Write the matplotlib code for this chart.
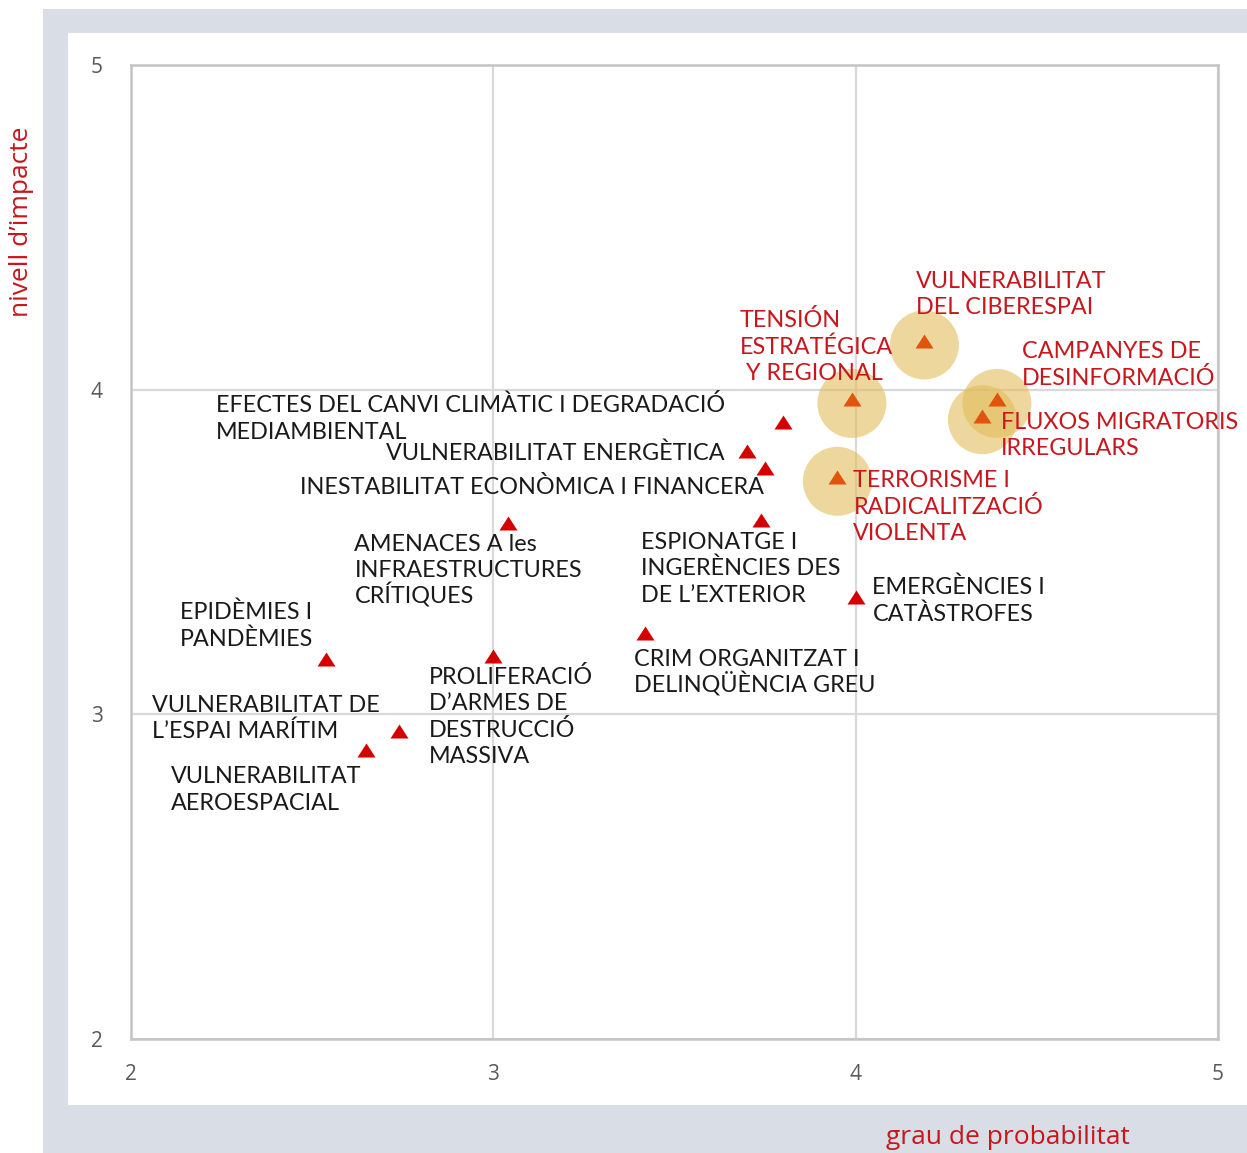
import matplotlib
matplotlib.use("Agg")
import matplotlib.pyplot as plt
from matplotlib.patches import Rectangle
from matplotlib.transforms import ScaledTranslation

# ---------------- data ----------------
labels = [
    "EPIDÈMIES I\nPANDÈMIES",
    "VULNERABILITAT\nAEROESPACIAL",
    "VULNERABILITAT DE\nL’ESPAI MARÍTIM",
    "PROLIFERACIÓ\nD’ARMES DE\nDESTRUCCIÓ\nMASSIVA",
    "AMENACES A les\nINFRAESTRUCTURES\nCRÍTIQUES",
    "CRIM ORGANITZAT I\nDELINQÜÈNCIA GREU",
    "ESPIONATGE I\nINGERÈNCIES DES\nDE L’EXTERIOR",
    "EMERGÈNCIES I\nCATÀSTROFES",
    "VULNERABILITAT ENERGÈTICA",
    "INESTABILITAT ECONÒMICA I FINANCERA",
    "EFECTES DEL CANVI CLIMÀTIC I DEGRADACIÓ\nMEDIAMBIENTAL",
    "TENSIÓN\nESTRATÉGICA\n Y REGIONAL",
    "TERRORISME I\nRADICALITZACIÓ\nVIOLENTA",
    "VULNERABILITAT\nDEL CIBERESPAI",
    "CAMPANYES DE\nDESINFORMACIÓ",
    "FLUXOS MIGRATORIS\nIRREGULARS",
]
probabilitat = [2.54, 2.65, 2.74, 3.00, 3.04, 3.42, 3.74, 4.00, 3.70, 3.75, 3.80, 3.99, 3.95, 4.19, 4.39, 4.35]
impacte      = [3.17, 2.89, 2.95, 3.18, 3.59, 3.25, 3.60, 3.36, 3.81, 3.76, 3.90, 3.97, 3.73, 4.15, 3.97, 3.92]
destacat     = [False, False, False, False, False, False, False, False, False, False, False,
                True, True, True, True, True]

x_ticks = [2, 3, 4, 5]
y_ticks = [2, 3, 4, 5]
x_label = "grau de probabilitat"
y_label = "nivell d’impacte"

# ---------------- styles / label placement (pixels, image-style: +down) ----------------
# (dx, dy of first baseline, horizontal alignment)
label_offsets = [
    (-146, -40, "left"),
    (-195, 33, "left"),
    (-247, -19, "left"),
    (-64, 28, "left"),
    (-153, 28, "left"),
    (-11, 33, "left"),
    (-120, 29, "left"),
    (17, -3, "left"),
    (-22, 9, "right"),
    (-1, 26, "right"),
    (-567, -10, "left"),
    (-112, -72, "left"),
    (16, 10, "left"),
    (-8, -53, "left"),
    (25, -41, "left"),
    (19, 13, "left"),
]
LINE_STEP = 26.5  # px between baselines

W, H = 1247, 1153
DPI = 100
LABEL_FONT = ["Lato", "DejaVu Sans"]
AXIS_FONT = ["Open Sans", "DejaVu Sans"]
RED_TEXT = "#c8161d"
BLACK_TEXT = "#1a1a1a"
MARK_RED = "#d40000"
MARK_ORANGE = "#e0540e"
HALO = "#e2bd5c"
FRAME = "#d8dde6"

plt.rcParams["font.family"] = AXIS_FONT

fig = plt.figure(figsize=(W / DPI, H / DPI), dpi=DPI)
fig.patch.set_facecolor("white")

def fx(px):
    return px / W

def fy(py):
    return 1 - py / H

# grey frame
fig.add_artist(Rectangle((fx(43), fy(1153)), fx(1247) - fx(43), fy(9) - fy(1153),
                         transform=fig.transFigure, facecolor=FRAME, edgecolor="none", zorder=-10))
fig.add_artist(Rectangle((fx(68), fy(1105)), fx(1247) - fx(68), fy(33) - fy(1105),
                         transform=fig.transFigure, facecolor="white", edgecolor="none", zorder=-9))

ax = fig.add_axes([fx(130.5), fy(1039), fx(1218) - fx(130.5), fy(65) - fy(1039)])
ax.set_xlim(2, 5)
ax.set_ylim(2, 5)
ax.set_facecolor("white")
ax.set_xticks(x_ticks)
ax.set_yticks(y_ticks)
ax.set_xticklabels([str(t) for t in x_ticks])
ax.set_yticklabels([str(t) for t in y_ticks])
ax.tick_params(length=0, labelsize=15, labelcolor="#595959")
ax.tick_params(axis="y", pad=20)
ax.tick_params(axis="x", pad=18)
ax.grid(True, color="#d9d9d9", linewidth=1.6, zorder=0)
ax.set_axisbelow(True)
for s in ax.spines.values():
    s.set_color("#c4c4c4")
    s.set_linewidth(1.8)

# halos
hx = [x for x, d in zip(probabilitat, destacat) if d]
hy = [y for y, d in zip(impacte, destacat) if d]
halo_tr = ax.transData + ScaledTranslation(0, -4 / DPI, fig.dpi_scale_trans)
ax.scatter(hx, hy, s=(69 * 72 / DPI) ** 2, color=HALO, alpha=0.6, edgecolors="none",
           transform=halo_tr, zorder=2)

tri = [(-1, -0.78), (1, -0.78), (0, 0.78), (-1, -0.78)]
nx = [x for x, d in zip(probabilitat, destacat) if not d]
ny = [y for y, d in zip(impacte, destacat) if not d]
ax.plot(nx, ny, linestyle="none", marker=tri, markersize=18 * 72 / DPI,
        color=MARK_RED, markeredgewidth=0, zorder=3)
ax.plot(hx, hy, linestyle="none", marker=tri, markersize=18 * 72 / DPI,
        color=MARK_ORANGE, markeredgewidth=0, zorder=3)

# labels
for lab, x, y, d, (dx, dy, ha) in zip(labels, probabilitat, impacte, destacat, label_offsets):
    col = RED_TEXT if d else BLACK_TEXT
    for k, line in enumerate(lab.split("\n")):
        ax.annotate(line, xy=(x, y), xytext=(dx, -(dy + k * LINE_STEP)),
                    textcoords="offset pixels", ha=ha, va="baseline",
                    fontsize=16.8, family=LABEL_FONT, color=col, zorder=4,
                    annotation_clip=False)

fig.text(fx(22), fy(222), y_label, rotation=90, ha="center", va="center",
         color=RED_TEXT, fontsize=19)
fig.text(fx(1008), fy(1137), x_label, ha="center", va="center",
         color=RED_TEXT, fontsize=19)

fig.savefig("out.png", dpi=DPI)
